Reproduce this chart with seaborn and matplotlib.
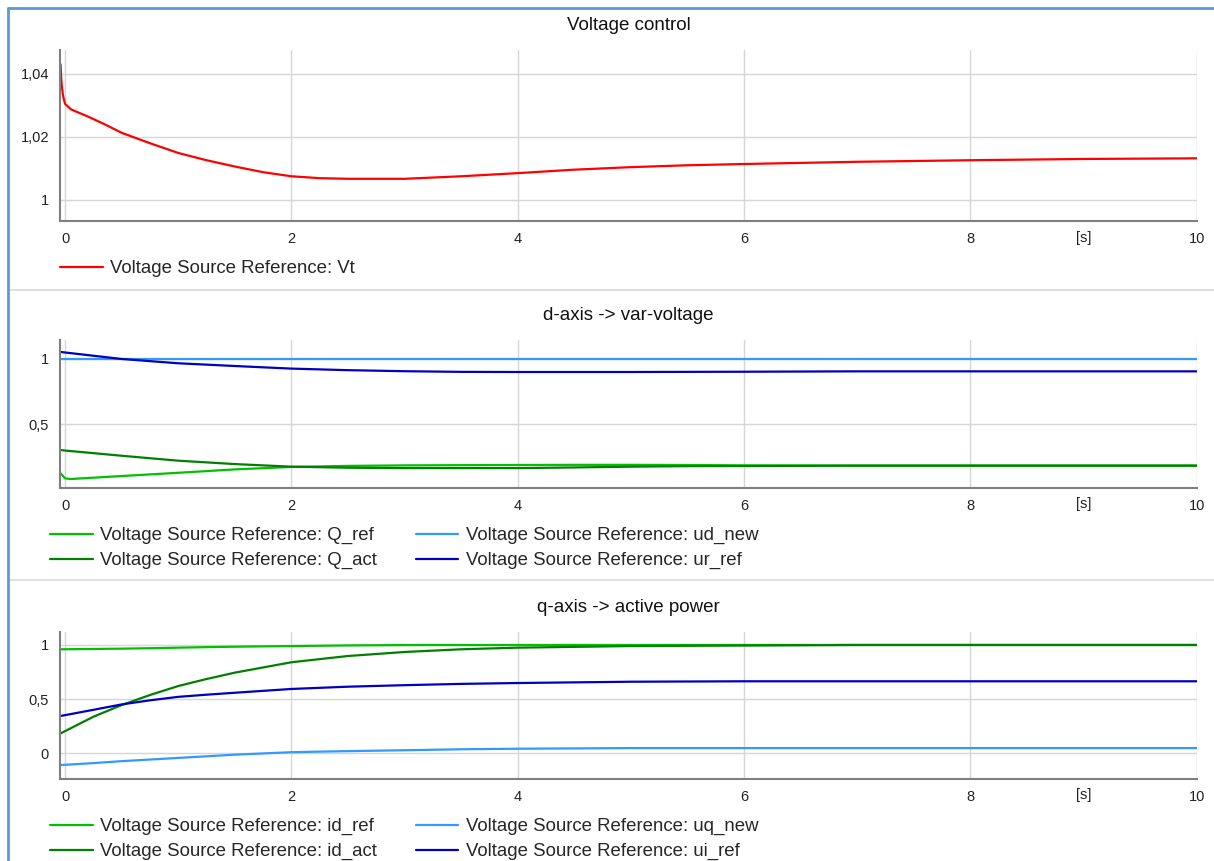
import numpy as np
import pandas as pd
import matplotlib
matplotlib.use("Agg")
import matplotlib.pyplot as plt
import seaborn as sns
from matplotlib.ticker import MultipleLocator, FuncFormatter
from matplotlib.lines import Line2D

# ******************** DATA ********************
# panel 1 - Voltage control
t_vt = [-0.04, -0.035, -0.03, -0.02, -0.01, 0.0, 0.05, 0.1, 0.2, 0.35, 0.5, 0.75, 1.0, 1.25,
        1.5, 1.75, 2.0, 2.25, 2.5, 3.0, 3.5, 4.0, 4.5, 5.0, 5.5, 6.0, 7.0, 8.0, 9.0, 10.0]
vt = [1.0430, 1.0390, 1.0365, 1.0335, 1.0318, 1.0305, 1.0288, 1.0280, 1.0265, 1.0240, 1.0213,
      1.0180, 1.0149, 1.0126, 1.0106, 1.0088, 1.0075, 1.0069, 1.0067, 1.0067, 1.0075, 1.0085,
      1.0096, 1.0104, 1.0110, 1.0114, 1.0121, 1.0126, 1.0130, 1.0132]

# panel 2 - d-axis -> var-voltage
t_q = [-0.04, 0.0, 0.05, 0.5, 1.0, 1.5, 2.0, 2.5, 3.0, 4.0, 4.5, 5.0, 5.5, 6.0, 7.0, 8.0, 10.0]
q_ref = [0.121, 0.082, 0.077, 0.100, 0.125, 0.151, 0.170, 0.178, 0.182, 0.185, 0.186, 0.186,
         0.185, 0.182, 0.180, 0.180, 0.180]
q_act = [0.300, 0.296, 0.292, 0.256, 0.218, 0.192, 0.172, 0.164, 0.161, 0.161, 0.166, 0.172,
         0.176, 0.177, 0.180, 0.180, 0.180]
t_ud = [-0.04, 10.0]
ud_new = [1.0, 1.0]
t_ur = [-0.04, 0.5, 1.0, 1.5, 2.0, 2.5, 3.0, 3.5, 4.0, 5.0, 6.0, 7.0, 8.0, 10.0]
ur_ref = [1.054, 1.000, 0.967, 0.946, 0.926, 0.914, 0.906, 0.901, 0.900, 0.900, 0.902, 0.905,
          0.905, 0.905]

# panel 3 - q-axis -> active power
t_id = [-0.04, 0.25, 0.5, 0.75, 1.0, 1.25, 1.5, 2.0, 2.5, 3.0, 3.5, 4.0, 5.0, 6.0, 7.0, 10.0]
id_ref = [0.960, 0.963, 0.966, 0.970, 0.975, 0.980, 0.984, 0.990, 0.996, 0.999, 1.0, 1.0, 1.0,
          1.0, 1.0, 1.0]
id_act = [0.182, 0.336, 0.444, 0.537, 0.620, 0.685, 0.744, 0.840, 0.898, 0.935, 0.960, 0.975,
          0.990, 0.995, 1.0, 1.0]
ui_ref = [0.343, 0.400, 0.450, 0.488, 0.520, 0.540, 0.558, 0.593, 0.614, 0.628, 0.640, 0.648,
          0.660, 0.664, 0.664, 0.664]
uq_new = [-0.111, -0.093, -0.075, -0.060, -0.045, -0.030, -0.015, 0.008, 0.018, 0.026, 0.035,
          0.040, 0.046, 0.046, 0.046, 0.046]

titles = ["Voltage control", "d-axis -> var-voltage", "q-axis -> active power"]
prefix = "Voltage Source Reference: "

RED = "#ff0000"
LGREEN = "#00c000"
DGREEN = "#008000"
LBLUE = "#3399ff"
DBLUE = "#0000c0"

# ******************** FIGURE ********************
sns.set_style("white")
plt.rcParams['font.family'] = ['Liberation Sans', 'DejaVu Sans']

W, H = 1214, 861
fig = plt.figure(figsize=(W / 100, H / 100), dpi=100)


def px_axes(left, top, right, bottom):
    return fig.add_axes([left / W, 1 - bottom / H, (right - left) / W, (bottom - top) / H])


ax1 = px_axes(60, 50, 1197, 221)
ax2 = px_axes(60, 340, 1197, 488)
ax3 = px_axes(60, 632, 1197, 779)

sns.lineplot(x=t_vt, y=vt, ax=ax1, color=RED, lw=1.6, label=prefix + "Vt")

sns.lineplot(x=t_q, y=q_ref, ax=ax2, color=LGREEN, lw=1.6, label=prefix + "Q_ref")
sns.lineplot(x=t_q, y=q_act, ax=ax2, color=DGREEN, lw=1.6, label=prefix + "Q_act")
sns.lineplot(x=t_ud, y=ud_new, ax=ax2, color=LBLUE, lw=1.6, label=prefix + "ud_new")
sns.lineplot(x=t_ur, y=ur_ref, ax=ax2, color=DBLUE, lw=1.6, label=prefix + "ur_ref")

sns.lineplot(x=t_id, y=id_ref, ax=ax3, color=LGREEN, lw=1.6, label=prefix + "id_ref")
sns.lineplot(x=t_id, y=id_act, ax=ax3, color=DGREEN, lw=1.6, label=prefix + "id_act")
sns.lineplot(x=t_id, y=uq_new, ax=ax3, color=LBLUE, lw=1.6, label=prefix + "uq_new")
sns.lineplot(x=t_id, y=ui_ref, ax=ax3, color=DBLUE, lw=1.6, label=prefix + "ui_ref")

comma = FuncFormatter(lambda v, p: f"{v:g}".replace(".", ","))

ylims = [(0.9933, 1.0476), (0.008, 1.146), (-0.24, 1.12)]
ymaj = [0.02, 0.5, 0.5]
ymin = [0.005, 0.1, 0.1]
legend_top = [260, 527, 818]
legend_left = [60, 50, 50]

for ax, title, yl, ma, mi, lt, ll in zip([ax1, ax2, ax3], titles, ylims, ymaj, ymin,
                                          legend_top, legend_left):
    ax.set_xlim(-0.045, 10.003)
    ax.set_ylim(*yl)
    ax.xaxis.set_major_locator(MultipleLocator(2))
    ax.xaxis.set_minor_locator(MultipleLocator(0.5))
    ax.yaxis.set_major_locator(MultipleLocator(ma))
    ax.yaxis.set_minor_locator(MultipleLocator(mi))
    ax.yaxis.set_major_formatter(comma)
    ax.grid(True, which='major', color='#d6d6d6', lw=1)
    ax.tick_params(which='major', length=0, labelsize=10.5, pad=8, colors='#222222')
    ax.tick_params(which='minor', direction='in', length=6, width=1, color='#cccccc')
    for s in ['top', 'right']:
        ax.spines[s].set_visible(False)
    for s in ['left', 'bottom']:
        ax.spines[s].set_color('#7f7f7f')
        ax.spines[s].set_linewidth(1.5)
    ax.set_xlabel("")
    ax.set_ylabel("")
    ax.set_title(title, fontsize=13.5, pad=14.5, color='#111111')
    ax.text(9, -0.06, "[s]", transform=ax.get_xaxis_transform(), ha='center', va='top',
            fontsize=10.5, color='#222222')
    ax.legend(loc='upper left', bbox_to_anchor=(ll / W, 1 - lt / H), bbox_transform=fig.transFigure,
              ncol=2, frameon=False, fontsize=13.4, borderpad=0, borderaxespad=0,
              handlelength=2.3, handletextpad=0.4, labelspacing=0.42, columnspacing=2.07)

# panel separators and outer frame
for yy in [290, 580]:
    fig.add_artist(Line2D([10 / W, 1], [1 - yy / H, 1 - yy / H], color='#d9d9d9', lw=1.2))
fig.add_artist(Line2D([8 / W, 8 / W], [0, 1 - 8 / H], color='#5b9bd5', lw=2))
fig.add_artist(Line2D([8 / W, 1], [1 - 8 / H, 1 - 8 / H], color='#5b9bd5', lw=2))

fig.savefig("out.png", dpi=100)
